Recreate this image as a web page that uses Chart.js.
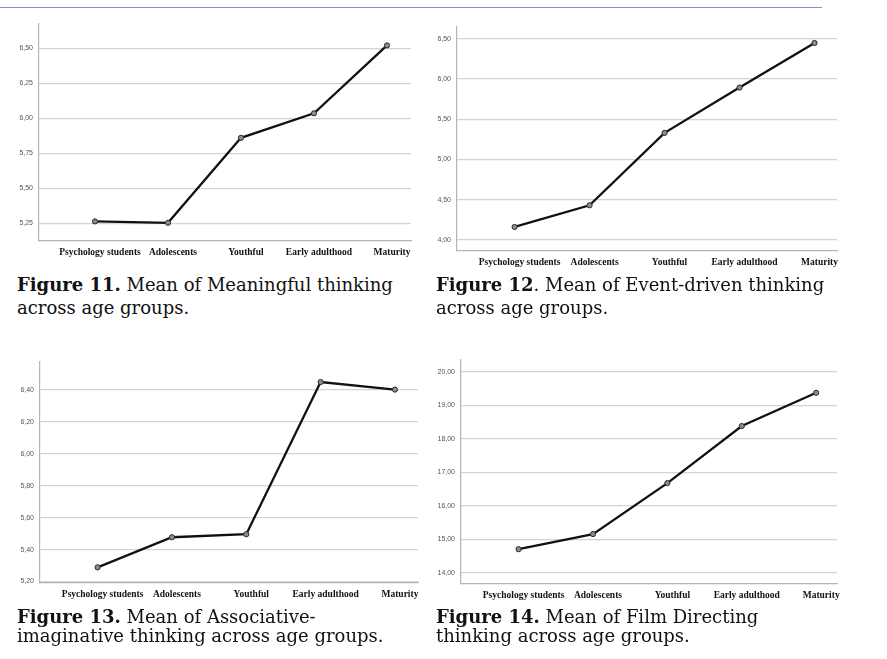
<!DOCTYPE html>
<html>
<head>
<meta charset="utf-8">
<script src="https://cdn.jsdelivr.net/npm/chart.js@4"></script>
<style>
  html, body { margin: 0; padding: 0; background: #fff; }
  body { width: 887px; height: 659px; position: relative; overflow: hidden; }
  .rule { position: absolute; left: 0; top: 7px; width: 822px; height: 1px; background: #8292c2; }
  .box { position: absolute; }
  .cap { position: absolute; font-family: "DejaVu Serif", serif; font-size: 18px; color: #111; white-space: nowrap; }
  .cap b { font-weight: bold; }
</style>
</head>
<body>
<div class="rule"></div>

<div class="box" id="b11"><canvas id="c11"></canvas></div>
<div class="box" id="b12"><canvas id="c12"></canvas></div>
<div class="box" id="b13"><canvas id="c13"></canvas></div>
<div class="box" id="b14"><canvas id="c14"></canvas></div>

<div class="cap" style="left:17px; top:274px;"><b>Figure 11.</b> Mean of Meaningful thinking</div>
<div class="cap" style="left:17px; top:297px;">across age groups.</div>
<div class="cap" style="left:436px; top:274px;"><b>Figure 12</b>. Mean of Event-driven thinking</div>
<div class="cap" style="left:436px; top:297px;">across age groups.</div>
<div class="cap" style="left:17px; top:606px;"><b>Figure 13.</b> Mean of Associative-</div>
<div class="cap" style="left:17px; top:625px;">imaginative thinking across age groups.</div>
<div class="cap" style="left:436px; top:606px;"><b>Figure 14.</b> Mean of Film Directing</div>
<div class="cap" style="left:436px; top:625px;">thinking across age groups.</div>

<script>
// ---- data ----
const categories = ["Psychology students", "Adolescents", "Youthful", "Early adulthood", "Maturity"];
const meaningful    = [5.264, 5.254, 5.861, 6.036, 6.521];
const eventDriven   = [4.162, 4.431, 5.330, 5.893, 6.447];
const associative   = [5.289, 5.477, 5.496, 6.447, 6.400];
const filmDirecting = [14.71, 15.16, 16.68, 18.38, 19.37];

const ticks11 = [5.25, 5.50, 5.75, 6.00, 6.25, 6.50];
const ticks12 = [4.00, 4.50, 5.00, 5.50, 6.00, 6.50];
const ticks13 = [5.20, 5.40, 5.60, 5.80, 6.00, 6.20, 6.40];
const ticks14 = [14, 15, 16, 17, 18, 19, 20];

// ---- layout (plot area in page px, axis ranges) ----
const panels = [
  { id: "11", values: meaningful,    yTicks: ticks11, yMin: 5.124, yMax: 6.674, xMin: -0.767, xMax: 4.329, L: 39,    T: 24,    R: 411,   B: 241 },
  { id: "12", values: eventDriven,   yTicks: ticks12, yMin: 3.863, yMax: 6.645, xMin: -0.768, xMax: 4.30,  L: 456.7, T: 27,    R: 836.7, B: 250.7 },
  { id: "13", values: associative,   yTicks: ticks13, yMin: 5.191, yMax: 6.5725, xMin: -0.775, xMax: 4.31, L: 40,    T: 361.7, R: 418.3, B: 582.7 },
  { id: "14", values: filmDirecting, yTicks: ticks14, yMin: 13.673, yMax: 20.348, xMin: -0.774, xMax: 4.28, L: 460.7, T: 360,  R: 836.7, B: 584.3 }
];

const YW = 40, XH = 24, PT = 6, PR = 12;

function zeroPad(s) { s.paddingTop = 0; s.paddingBottom = 0; s.paddingLeft = 0; s.paddingRight = 0; }

panels.forEach(p => {
  const box = document.getElementById("b" + p.id);
  const cv = document.getElementById("c" + p.id);
  const w = Math.round(p.R - p.L + YW + PR);
  const h = Math.round(p.B - p.T + PT + XH);
  box.style.left = (p.L - YW) + "px";
  box.style.top = (p.T - PT) + "px";
  cv.width = w; cv.height = h;
  cv.style.width = w + "px"; cv.style.height = h + "px";

  new Chart(cv, {
    type: "line",
    data: {
      datasets: [{
        data: p.values.map((v, i) => ({ x: i, y: v })),
        borderColor: "#111",
        borderWidth: 2.3,
        pointRadius: 2.6,
        pointBackgroundColor: "#8c8c8c",
        pointBorderColor: "#2a2a2a",
        pointBorderWidth: 1,
        tension: 0,
        clip: false
      }]
    },
    options: {
      responsive: false,
      animation: false,
      devicePixelRatio: 1,
      layout: { padding: { top: PT, right: PR, left: 0, bottom: 0 } },
      plugins: { legend: { display: false }, tooltip: { enabled: false } },
      scales: {
        x: {
          type: "linear",
          min: p.xMin, max: p.xMax,
          afterFit: s => { s.height = XH; zeroPad(s); },
          afterBuildTicks: s => { s.ticks = categories.map((c, i) => ({ value: i })); },
          grid: { display: false, drawTicks: false },
          border: { display: true, color: "#b5b5b5", width: 1.2 },
          ticks: {
            callback: v => categories[v],
            maxRotation: 0, autoSkip: false,
            padding: 6, labelOffset: 5,
            color: "#111",
            font: { family: "Liberation Serif", size: 9.5, weight: "bold" }
          }
        },
        y: {
          min: p.yMin, max: p.yMax,
          afterFit: s => { s.width = YW; zeroPad(s); },
          afterBuildTicks: s => { s.ticks = p.yTicks.map(v => ({ value: v })); },
          grid: { color: "#d4d4d4", lineWidth: 1.3, drawTicks: false },
          border: { display: true, color: "#b5b5b5", width: 1.2 },
          ticks: {
            callback: v => v.toFixed(2).replace(".", ","),
            padding: 6,
            color: "#555",
            font: { family: "Liberation Sans", size: 7 }
          }
        }
      }
    }
  });
});
</script>
</body>
</html>
